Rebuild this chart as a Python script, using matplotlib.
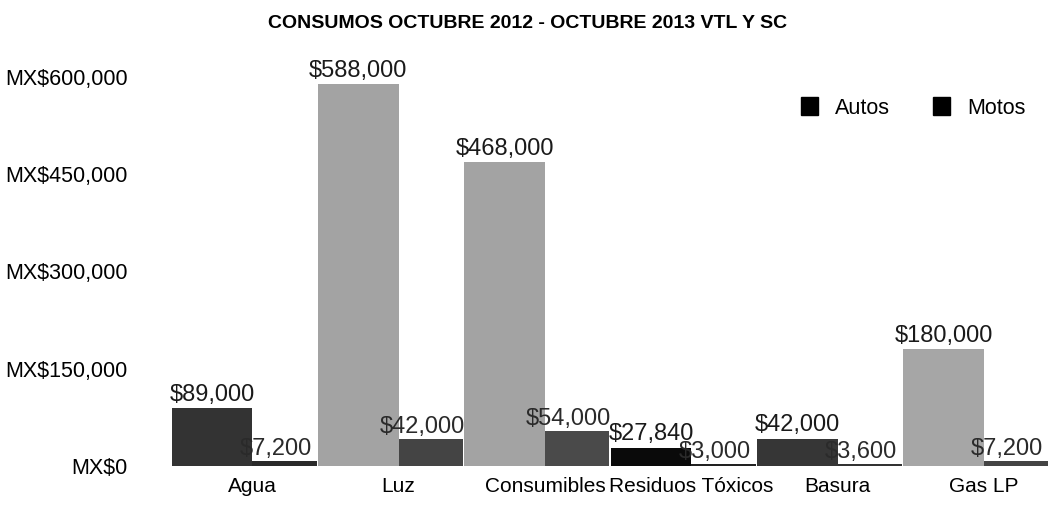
import matplotlib.pyplot as plt
from matplotlib.patches import Patch
from matplotlib.ticker import FuncFormatter
import numpy as np

plt.rcParams['font.family'] = ['Liberation Sans', 'DejaVu Sans']

categorias = ["Agua", "Luz", "Consumibles", "Residuos Tóxicos", "Basura", "Gas LP"]
autos = [89000, 588000, 468000, 27840, 42000, 180000]
motos = [7200, 42000, 54000, 3000, 3600, 7200]
ticks_y = [0, 150000, 300000, 450000, 600000]

# tonos del escaneo original
color_autos = ["#333333", "#a3a3a3", "#a3a3a3", "#0a0a0a", "#363636", "#a6a6a6"]
color_motos = ["#2a2a2a", "#444444", "#4a4a4a", "#222222", "#333333", "#444444"]

fig = plt.figure(figsize=(10.55, 5.11), dpi=100)
ax = fig.add_axes([0.142, 0.088, 0.853, 0.795])

x = np.arange(len(categorias))
wa = 0.55
wm = 0.44
ax.bar(x - wa / 2, autos, wa, color=color_autos)
ax.bar(x + wm / 2, motos, wm, color=color_motos)

for i in range(len(categorias)):
    ax.text(x[i] - wa / 2, autos[i] + 4000, f"${autos[i]:,}", ha="center",
            va="bottom", fontsize=17, color="#1a1a1a")
    ax.text(x[i] + wm / 2 - 0.06, motos[i] + 1500, f"${motos[i]:,}", ha="center",
            va="bottom", fontsize=17, color="#2a2a2a")

ax.set_ylim(0, 626000)
ax.set_xlim(-0.7, 5.45)
ax.set_yticks(ticks_y)
ax.yaxis.set_major_formatter(FuncFormatter(lambda v, p: f"MX${int(v):,}"))
ax.set_xticks(x)
ax.set_xticklabels(categorias)
ax.tick_params(axis="y", length=0, pad=16, labelsize=15.5)
ax.tick_params(axis="x", length=0, pad=8, labelsize=15)
for s in ax.spines.values():
    s.set_visible(False)

handles = [Patch(color="black", label="Autos"), Patch(color="black", label="Motos")]
ax.legend(handles=handles, loc="upper right", ncol=2, frameon=False, fontsize=15.5,
          bbox_to_anchor=(0.995, 0.955), handlelength=0.8, handleheight=0.9,
          columnspacing=2.0, handletextpad=0.8)

fig.suptitle("CONSUMOS OCTUBRE 2012 - OCTUBRE 2013 VTL Y SC", x=0.5, y=0.97,
             fontsize=14, fontweight="bold")

fig.savefig("out.png", dpi=100)
